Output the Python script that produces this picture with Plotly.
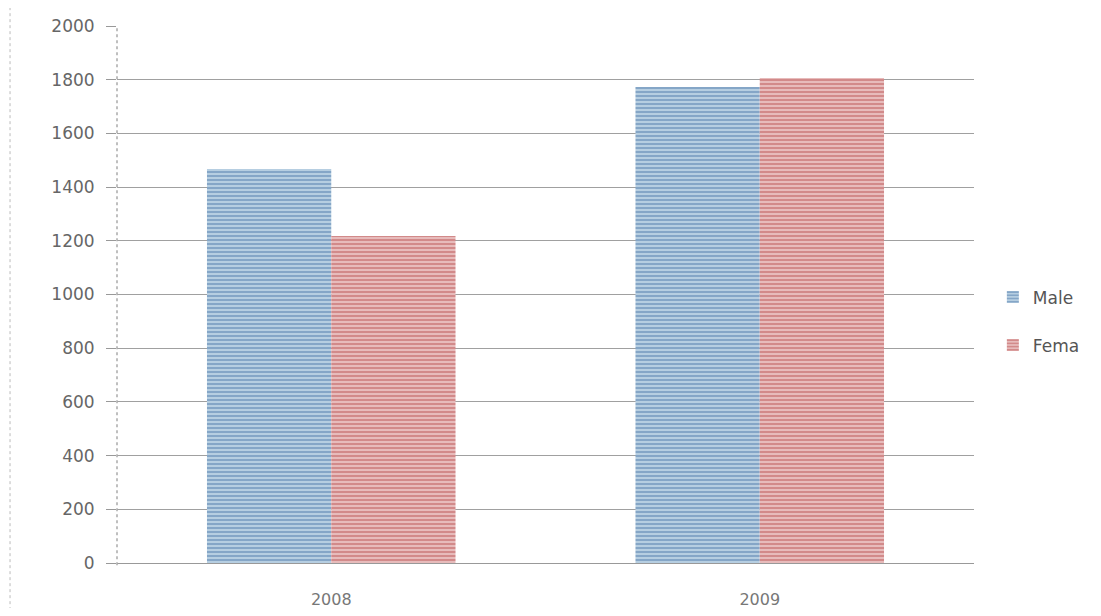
import plotly.graph_objects as go

categories = ["2008", "2009"]
male = [1467, 1773]
female = [1218, 1806]
series_names = ["Male", "Fema"]
y_ticks = [0, 200, 400, 600, 800, 1000, 1200, 1400, 1600, 1800, 2000]

fig = go.Figure()
fig.add_trace(go.Bar(
    x=categories, y=male, name=series_names[0], legendgroup="m",
    marker=dict(color="#c6dbe9", line=dict(width=0),
                pattern=dict(shape="-", fgcolor="#3f6da3", bgcolor="#cadeeb",
                             size=4, solidity=0.65)),
))
fig.add_trace(go.Bar(
    x=categories, y=female, name=series_names[1], legendgroup="f",
    marker=dict(color="#efcaca", line=dict(width=0),
                pattern=dict(shape="-", fgcolor="#b34646", bgcolor="#f0cfcf",
                             size=4, solidity=0.65)),
))

fig.update_layout(
    width=1085, height=600,
    paper_bgcolor="white", plot_bgcolor="white",
    margin=dict(l=109, r=119, t=18, b=45, autoexpand=False),
    barmode="group", bargap=0.42, bargroupgap=0,
    font=dict(family="DejaVu Sans", size=13, color="#666666"),
    showlegend=True,
    legend=dict(x=1.022, y=0.45, xanchor="left", yanchor="middle",
                font=dict(size=17, color="#555555"), tracegroupgap=23,
                itemwidth=30),
    xaxis=dict(showgrid=False, showline=True, linecolor="#999999", linewidth=1,
               ticks="", ticklabelstandoff=22, automargin=False,
               tickfont=dict(size=16, color="#777777")),
    yaxis=dict(range=[0, 2000], tickvals=y_ticks, showgrid=True,
               gridcolor="#a0a0a0", gridwidth=1, zeroline=False,
               showline=False, automargin=False,
               ticks="outside", ticklen=10, tickcolor="#999999",
               ticklabelstandoff=8,
               tickfont=dict(size=17, color="#666666")),
)
# dotted vertical axis line
fig.add_shape(type="line", xref="paper", yref="paper", x0=0, x1=0,
              y0=-0.004, y1=1.0, line=dict(color="#aaaaaa", width=1.5, dash="dot"))
# dotted outer frame line at left
fig.add_shape(type="line", xref="paper", yref="paper", x0=-0.1248, x1=-0.1248,
              y0=-0.099, y1=1.0335, line=dict(color="#bbbbbb", width=1, dash="dot"))

fig.write_html("out.html")
